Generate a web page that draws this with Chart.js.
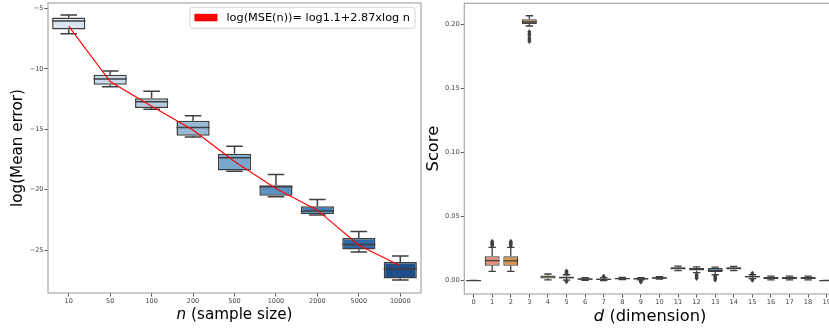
<!DOCTYPE html>
<html>
<head>
<meta charset="utf-8">
<title>Mean error and score boxplots</title>
<script src="https://cdn.jsdelivr.net/npm/chart.js"></script>
<style>
    html, body { margin: 0; padding: 0; background: #fff; overflow: hidden; }
    .panel { position: absolute; top: 0; height: 329px; overflow: hidden; }
    #leftPanel { left: 0; width: 422px; }
    #rightPanel { left: 421px; width: 408px; }
</style>
</head>
<body>
<div class="panel" id="leftPanel"><canvas id="errChart" width="422" height="329"></canvas></div>
<div class="panel" id="rightPanel"><canvas id="scoreChart" width="420" height="329"></canvas></div>
<script>
// ---- left panel: log(mean error) by sample size ----
const sampleSizes = ['10', '50', '100', '200', '500', '1000', '2000', '5000', '10000'];
const errLo  = [-7.10, -11.49, -13.34, -15.65, -18.47, -20.60, -22.10, -25.17, -27.49];
const errQ1  = [-6.74, -11.32, -13.25, -15.55, -18.41, -20.51, -22.05, -24.95, -27.35];
const errMed = [-6.03, -10.85, -12.73, -14.85, -17.37, -19.77, -21.78, -24.54, -26.58];
const errQ3  = [-5.75, -10.50, -12.43, -14.30, -17.03, -19.63, -21.37, -24.01, -26.00];
const errHi  = [-5.55, -10.17, -11.85, -13.89, -16.42, -18.74, -20.81, -23.46, -25.50];
const errFit = [-6.47, -11.05, -13.10, -15.07, -17.67, -19.90, -21.70, -24.60, -26.30];
const errTicks = [-25, -20, -15, -10, -5];
const blues = ['#dce6f1', '#c9dbeb', '#b2cbe0', '#97b9d6', '#79a8cf', '#5b93c4', '#4280b7', '#2f69a5', '#1d4f8a'];
const fitLabel = 'log(MSE(n))= log1.1+2.87xlog n';

// ---- right panel: score by dimension ----
const dims = ['0','1','2','3','4','5','6','7','8','9','10','11','12','13','14','15','16','17','18','19'];
const scLo  = [0, .0073, .0073, .1987, .0006, .0004, .0002, .0001, .0008, .0007, .0012, .0078, .0062, .0046, .0079, .0016, .0006, .0006, .0006, 0];
const scQ1  = [0, .0117, .0117, .2002, .0016, .0016, .0007, .0005, .0012, .0011, .0016, .0087, .0079, .0067, .0088, .0025, .0013, .0013, .0013, 0];
const scMed = [.0001, .0156, .0154, .2018, .0029, .0024, .0012, .0010, .0016, .0015, .0021, .0096, .0089, .0081, .0096, .0031, .0021, .0021, .0020, .0001];
const scQ3  = [.0002, .0190, .0190, .2039, .0041, .0033, .0018, .0016, .0021, .0019, .0026, .0104, .0099, .0099, .0104, .0037, .0029, .0029, .0028, .0002];
const scHi  = [.0002, .0260, .0260, .2067, .0052, .0046, .0024, .0024, .0025, .0023, .0031, .0113, .0108, .0106, .0112, .0046, .0036, .0036, .0035, .0002];
const scOut = [
    [], [.0272, .0282, .0290, .0298, .0306], [.0272, .0282, .0290, .0298, .0306],
    [.1942, .1928, .1915, .1893, .1878, .1866], [], [.0054, .0061, .0068, .0075, -.0002, -.0008],
    [], [.0029, .0034], [], [.0002, -.0004, -.0010], [], [],
    [.0048, .0038, .0028, .0018], [.0036, .0026, .0016, .0006], [], [.0052, .0058, .0010, .0004],
    [], [], [], []
];
const scTicks = [0, 0.05, 0.10, 0.15, 0.20];
const husl = ['#d98592', '#e38f7b', '#d6954c', '#b89449', '#a49846', '#909c46', '#76a046', '#4ea559',
              '#4aa37e', '#4aa290', '#4ba09d', '#4c9eaa', '#4e9bb8', '#3f93c6', '#7b93d6', '#9a89d6',
              '#b37fd2', '#b27ab5', '#c47ca8', '#d07f9d'];

const FONT = 'DejaVu Sans';
const EDGE = '#404040';

const boxExtras = {
    id: 'boxExtras',
    afterDatasetDraw(chart, args, opts) {
        if (args.index !== 0) return;
        const {ctx} = chart;
        const y = chart.scales.y;
        ctx.save();
        ctx.strokeStyle = EDGE;
        ctx.fillStyle = EDGE;
        ctx.lineWidth = opts.lineWidth;
        args.meta.data.forEach((bar, i) => {
            const cx = bar.x, hw = bar.width / 2, cap = hw / 2;
            const pLo = y.getPixelForValue(opts.lo[i]);
            const pHi = y.getPixelForValue(opts.hi[i]);
            const pQ1 = y.getPixelForValue(opts.q1[i]);
            const pQ3 = y.getPixelForValue(opts.q3[i]);
            const pMed = y.getPixelForValue(opts.med[i]);
            ctx.beginPath();
            ctx.moveTo(cx, pQ1); ctx.lineTo(cx, pLo);
            ctx.moveTo(cx - cap, pLo); ctx.lineTo(cx + cap, pLo);
            ctx.moveTo(cx, pQ3); ctx.lineTo(cx, pHi);
            ctx.moveTo(cx - cap, pHi); ctx.lineTo(cx + cap, pHi);
            ctx.moveTo(cx - hw, pMed); ctx.lineTo(cx + hw, pMed);
            ctx.stroke();
            (opts.out ? opts.out[i] : []).forEach(v => {
                const py = y.getPixelForValue(v);
                ctx.beginPath();
                ctx.moveTo(cx, py - 2.6); ctx.lineTo(cx + 2, py);
                ctx.lineTo(cx, py + 2.6); ctx.lineTo(cx - 2, py);
                ctx.closePath();
                ctx.fill();
            });
        });
        ctx.restore();
    }
};

const frame = {
    id: 'frame',
    beforeDatasetsDraw(chart) {
        const a = chart.chartArea, ctx = chart.ctx;
        ctx.save();
        ctx.strokeStyle = '#a8a8a8';
        ctx.lineWidth = 1.2;
        ctx.strokeRect(a.left, a.top, a.right - a.left, a.bottom - a.top);
        ctx.restore();
    }
};

// x-axis title with an italic variable name
const xTitle = {
    id: 'xTitle',
    afterDraw(chart, args, opts) {
        const ctx = chart.ctx, a = chart.chartArea;
        ctx.save();
        ctx.fillStyle = '#000';
        ctx.textBaseline = 'middle';
        const fItal = 'italic ' + opts.size + 'px "' + FONT + '"';
        const fReg = opts.size + 'px "' + FONT + '"';
        ctx.font = fItal;
        const w1 = ctx.measureText(opts.variable).width;
        ctx.font = fReg;
        const w2 = ctx.measureText(opts.rest).width;
        const x0 = (a.left + a.right) / 2 - (w1 + w2) / 2;
        ctx.font = fItal;
        ctx.fillText(opts.variable, x0, opts.y);
        ctx.font = fReg;
        ctx.fillText(opts.rest, x0 + w1, opts.y);
        ctx.restore();
    }
};

// legend drawn inside the plot, top right
const innerLegend = {
    id: 'innerLegend',
    afterDraw(chart, args, opts) {
        const ctx = chart.ctx, a = chart.chartArea;
        const ds = chart.data.datasets[opts.index];
        ctx.save();
        ctx.font = opts.size + 'px "' + FONT + '"';
        const tw = ctx.measureText(ds.label).width;
        const w = 4.5 + 23 + 9 + tw + 5, h = 21;
        const x = a.right - 6 - w, y = a.top + 4.3;
        ctx.fillStyle = 'rgba(255,255,255,0.85)';
        ctx.strokeStyle = '#d4d4d4';
        ctx.lineWidth = 1;
        ctx.beginPath();
        ctx.roundRect(x, y, w, h, 2.5);
        ctx.fill();
        ctx.stroke();
        ctx.fillStyle = ds.borderColor;
        ctx.fillRect(x + 4.5, y + 6.5, 23, 7.5);
        ctx.fillStyle = '#000';
        ctx.textBaseline = 'middle';
        ctx.fillText(ds.label, x + 4.5 + 23 + 9, y + h / 2 + 0.5);
        ctx.restore();
    }
};

function fixWidth(w) { return s => { s.width = w; s.paddingTop = 0; s.paddingBottom = 0; }; }
function fixHeight(h) { return s => { s.height = h; s.paddingLeft = 0; s.paddingRight = 0; }; }

function xAxis(fontSize) {
    return {
        type: 'category',
        offset: true,
        grid: { display: true, drawOnChartArea: false, drawTicks: true, tickLength: 3.5, tickColor: '#555', offset: false },
        border: { display: false },
        ticks: { font: { family: FONT, size: fontSize }, color: '#444', padding: 1, maxRotation: 0, autoSkip: false }
    };
}

new Chart(document.getElementById('errChart'), {
    type: 'bar',
    data: {
        labels: sampleSizes,
        datasets: [{
            label: 'boxes',
            data: errQ1.map((v, i) => [v, errQ3[i]]),
            backgroundColor: blues,
            borderColor: EDGE,
            borderWidth: 1.5,
            borderSkipped: false,
            barPercentage: 0.8,
            categoryPercentage: 1.0,
            order: 1
        }, {
            type: 'line',
            label: fitLabel,
            data: errFit,
            borderColor: '#ff0000',
            borderWidth: 1.1,
            pointRadius: 0,
            fill: false,
            tension: 0,
            order: 0
        }]
    },
    options: {
        responsive: false,
        animation: false,
        events: [],
        layout: { padding: { top: 3, right: 1, left: 0, bottom: 0 } },
        plugins: {
            legend: { display: false },
            tooltip: { enabled: false },
            boxExtras: { lo: errLo, q1: errQ1, med: errMed, q3: errQ3, hi: errHi, lineWidth: 1.5 },
            xTitle: { variable: 'n', rest: ' (sample size)', size: 15.2, y: 315.5 },
            innerLegend: { index: 1, size: 11.3 }
        },
        scales: {
            x: Object.assign(xAxis(6.5), { afterFit: fixHeight(36) }),
            y: {
                min: -28.56,
                max: -4.55,
                afterFit: fixWidth(48),
                afterBuildTicks: s => { s.ticks = errTicks.map(v => ({ value: v })); },
                grid: { display: true, drawOnChartArea: false, drawTicks: true, tickLength: 3.5, tickColor: '#555' },
                border: { display: false },
                ticks: {
                    font: { family: FONT, size: 6.5 }, color: '#444', padding: 1,
                    callback: v => String(v).replace('-', '\u2212')
                },
                title: {
                    display: true, text: 'log(Mean error)', color: '#000',
                    font: { family: FONT, size: 15.2 }, padding: { top: 9, bottom: 0 }
                }
            }
        }
    },
    plugins: [frame, boxExtras, xTitle, innerLegend]
});

new Chart(document.getElementById('scoreChart'), {
    type: 'bar',
    data: {
        labels: dims,
        datasets: [{
            label: 'boxes',
            data: scQ1.map((v, i) => [v, scQ3[i]]),
            backgroundColor: husl,
            borderColor: EDGE,
            borderWidth: 1.2,
            borderSkipped: false,
            barPercentage: 0.8,
            categoryPercentage: 1.0
        }]
    },
    options: {
        responsive: false,
        animation: false,
        events: [],
        layout: { padding: { top: 3.3, right: 5, left: 0, bottom: 0 } },
        plugins: {
            legend: { display: false },
            tooltip: { enabled: false },
            boxExtras: { lo: scLo, q1: scQ1, med: scMed, q3: scQ3, hi: scHi, out: scOut, lineWidth: 1.3 },
            xTitle: { variable: 'd', rest: ' (dimension)', size: 16.3, y: 316.5 }
        },
        scales: {
            x: Object.assign(xAxis(6.7), { afterFit: fixHeight(35) }),
            y: {
                min: -0.0104,
                max: 0.2164,
                afterFit: fixWidth(43.3),
                afterBuildTicks: s => { s.ticks = scTicks.map(v => ({ value: v })); },
                grid: { display: true, drawOnChartArea: false, drawTicks: true, tickLength: 3.5, tickColor: '#555' },
                border: { display: false },
                ticks: { font: { family: FONT, size: 6.7 }, color: '#444', padding: 1, callback: v => v.toFixed(2) },
                title: {
                    display: true, text: 'Score', color: '#000',
                    font: { family: FONT, size: 16.3 }, padding: { top: 3, bottom: 0 }
                }
            }
        }
    },
    plugins: [frame, boxExtras, xTitle]
});
</script>
</body>
</html>
